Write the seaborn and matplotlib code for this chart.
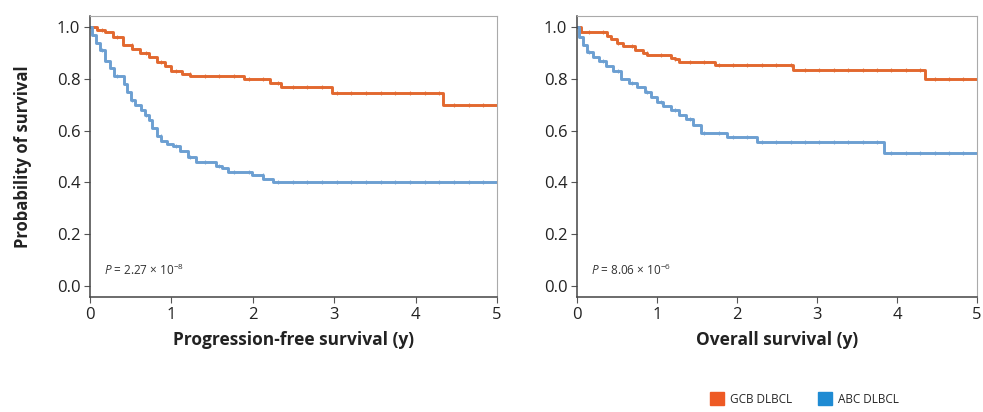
import matplotlib
matplotlib.use('Agg')
import matplotlib.pyplot as plt
import matplotlib.patches as mpatches
import seaborn as sns
import pandas as pd
import numpy as np

# Kaplan-Meier step values (time in years, survival prob)
pfs_gcb_t = [0, 0.08, 0.18, 0.28, 0.41, 0.52, 0.61, 0.72, 0.82, 0.92, 1.0, 1.13, 1.23, 1.89, 2.21, 2.34, 2.97, 4.34, 5.0]
pfs_gcb_s = [1.0, 0.99, 0.98, 0.96, 0.93, 0.915, 0.90, 0.885, 0.865, 0.85, 0.83, 0.82, 0.81, 0.80, 0.785, 0.77, 0.745, 0.70, 0.70]

pfs_abc_t = [0, 0.03, 0.07, 0.12, 0.18, 0.24, 0.30, 0.42, 0.46, 0.50, 0.55, 0.62, 0.68, 0.72, 0.76, 0.82, 0.87, 0.95, 1.02, 1.1, 1.2, 1.3, 1.55, 1.62, 1.7, 1.99, 2.13, 2.25, 5.0]
pfs_abc_s = [1.0, 0.97, 0.94, 0.91, 0.87, 0.84, 0.81, 0.78, 0.75, 0.72, 0.70, 0.68, 0.66, 0.64, 0.61, 0.58, 0.56, 0.55, 0.54, 0.52, 0.50, 0.48, 0.465, 0.455, 0.44, 0.43, 0.415, 0.40, 0.40]

os_gcb_t = [0, 0.05, 0.37, 0.43, 0.5, 0.58, 0.72, 0.82, 0.88, 1.17, 1.22, 1.28, 1.72, 2.7, 4.35, 5.0]
os_gcb_s = [1.0, 0.98, 0.965, 0.955, 0.94, 0.925, 0.91, 0.90, 0.89, 0.88, 0.875, 0.865, 0.855, 0.835, 0.80, 0.80]

os_abc_t = [0, 0.03, 0.07, 0.12, 0.2, 0.28, 0.36, 0.45, 0.55, 0.65, 0.75, 0.85, 0.93, 1.0, 1.08, 1.18, 1.28, 1.36, 1.45, 1.55, 1.88, 2.25, 3.84, 5.0]
os_abc_s = [1.0, 0.96, 0.93, 0.905, 0.885, 0.87, 0.85, 0.83, 0.80, 0.785, 0.77, 0.75, 0.73, 0.71, 0.695, 0.68, 0.66, 0.645, 0.62, 0.59, 0.575, 0.555, 0.515, 0.515]

p_labels = ['$P$ = 2.27 × 10$^{-8}$', '$P$ = 8.06 × 10$^{-6}$']
x_titles = ['Progression-free survival (y)', 'Overall survival (y)']
groups = ['GCB DLBCL', 'ABC DLBCL']

CURVE_COLORS = {'GCB DLBCL': '#e2682f', 'ABC DLBCL': '#6c9fd2'}
LEGEND_COLORS = {'GCB DLBCL': '#ee5a24', 'ABC DLBCL': '#1f8bd3'}


def make_df(t_gcb, s_gcb, t_abc, s_abc):
    a = pd.DataFrame({'time': t_gcb, 'surv': s_gcb, 'group': groups[0]})
    b = pd.DataFrame({'time': t_abc, 'surv': s_abc, 'group': groups[1]})
    return pd.concat([a, b], ignore_index=True)


panels = [make_df(pfs_gcb_t, pfs_gcb_s, pfs_abc_t, pfs_abc_s),
          make_df(os_gcb_t, os_gcb_s, os_abc_t, os_abc_s)]

sns.set_style('white')
plt.rcParams['font.family'] = ['Open Sans', 'DejaVu Sans']
plt.rcParams['mathtext.fontset'] = 'custom'
plt.rcParams['mathtext.it'] = 'Open Sans:italic'
plt.rcParams['mathtext.rm'] = 'Open Sans'

fig = plt.figure(figsize=(9.83, 4.12), dpi=100)
ax_pos = [[0.0916, 0.279, 0.414, 0.682], [0.587, 0.279, 0.407, 0.682]]

for i, df in enumerate(panels):
    ax = fig.add_axes(ax_pos[i])
    sns.lineplot(data=df, x='time', y='surv', hue='group', palette=CURVE_COLORS,
                 drawstyle='steps-post', linewidth=2.1, sort=False,
                 legend=False, ax=ax)
    # small censoring ticks along each curve
    for g in groups:
        sub = df[df['group'] == g]
        ct = np.arange(0.15, 4.95, 0.18)
        idx = np.searchsorted(sub['time'].values, ct, side='right') - 1
        cs = sub['surv'].values[idx]
        ax.scatter(ct, cs, marker='|', s=7, color=CURVE_COLORS[g], linewidths=0.8,
                   alpha=0.8, zorder=3)

    ax.set_xlim(0, 5)
    ax.set_ylim(-0.042, 1.042)
    ax.set_xticks(range(6))
    ax.set_yticks([0.0, 0.2, 0.4, 0.6, 0.8, 1.0])
    ax.set_yticklabels(['0.0', '0.2', '0.4', '0.6', '0.8', '1.0'])
    ax.tick_params(axis='both', labelsize=12, length=4, width=0.8, color='#555555',
                   direction='out', bottom=True, left=True, pad=3, labelcolor='#222222')
    for side in ['left', 'bottom']:
        ax.spines[side].set_color('#444444')
        ax.spines[side].set_linewidth(1.1)
    for side in ['top', 'right']:
        ax.spines[side].set_color('#aaaaaa')
        ax.spines[side].set_linewidth(0.8)
    ax.set_xlabel(x_titles[i], fontsize=12.5, fontweight='bold', labelpad=6, color='#222222')
    if i == 0:
        ax.set_ylabel('Probability of survival', fontsize=12, fontweight='bold',
                      labelpad=18, color='#222222')
    else:
        ax.set_ylabel('')
    ax.text(0.17, 0.045, p_labels[i], fontsize=8.5, color='#333333')

handles = [mpatches.Patch(color=LEGEND_COLORS[g], label=g) for g in groups]
fig.legend(handles=handles, loc='center', bbox_to_anchor=(0.818, 0.032), ncol=2,
           frameon=False, fontsize=8.5, handlelength=1.2, handleheight=1.3,
           handletextpad=0.5, columnspacing=2.2)

plt.savefig('out.png', dpi=100)
plt.close()
